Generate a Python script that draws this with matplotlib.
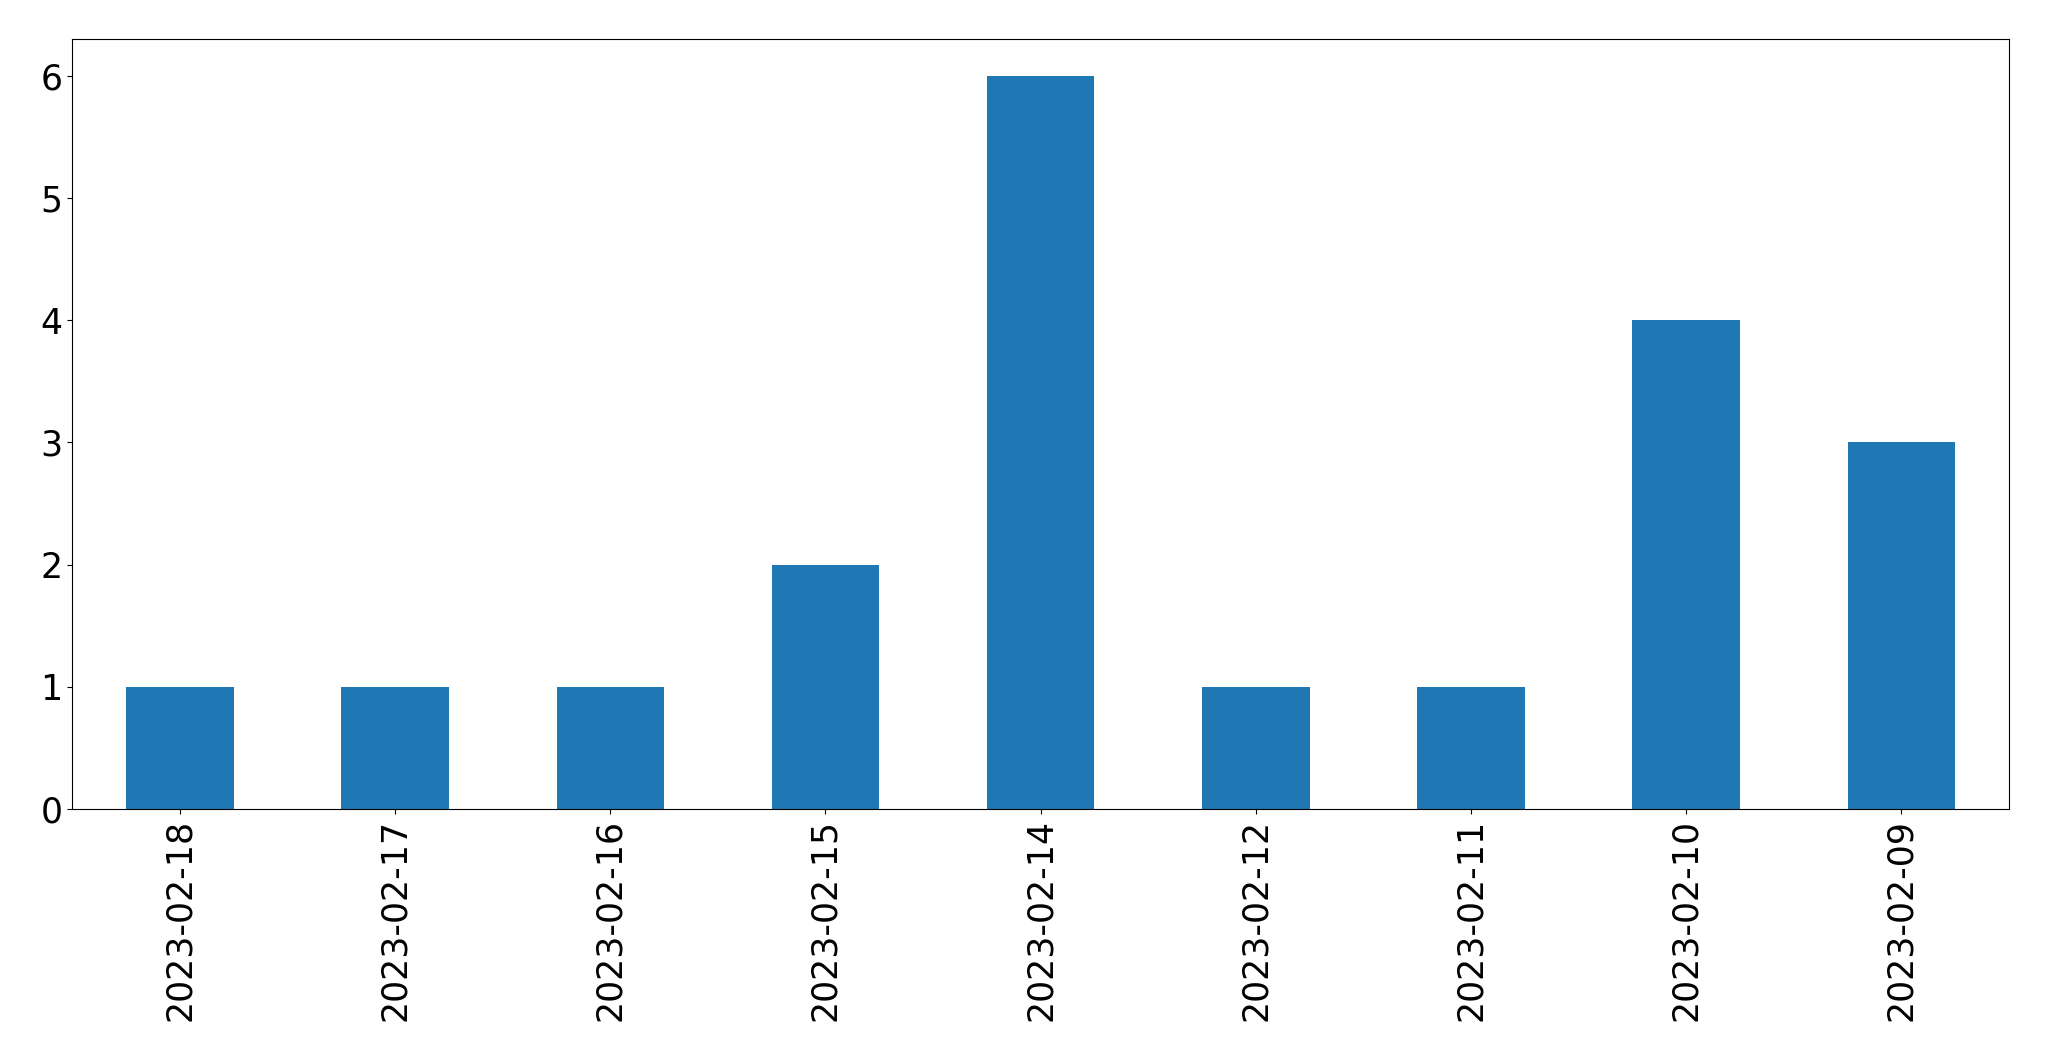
import matplotlib
matplotlib.use("Agg")
import matplotlib.pyplot as plt

dates = ["2023-02-18", "2023-02-17", "2023-02-16", "2023-02-15", "2023-02-14",
         "2023-02-12", "2023-02-11", "2023-02-10", "2023-02-09"]
counts = [1, 1, 1, 2, 6, 1, 1, 4, 3]

fig = plt.figure(figsize=(20.49, 10.61), dpi=100)
ax = fig.add_axes([0.0353, 0.2375, 0.9452, 0.7255])
x = list(range(len(dates)))
ax.bar(x, counts, width=0.5, color="#1f77b4")
ax.set_xlim(-0.5, len(dates) - 0.5)
ax.set_xticks(x)
ax.set_xticklabels(dates, rotation=90)
ax.tick_params(labelsize=25)
fig.savefig("out.png", dpi=100)
